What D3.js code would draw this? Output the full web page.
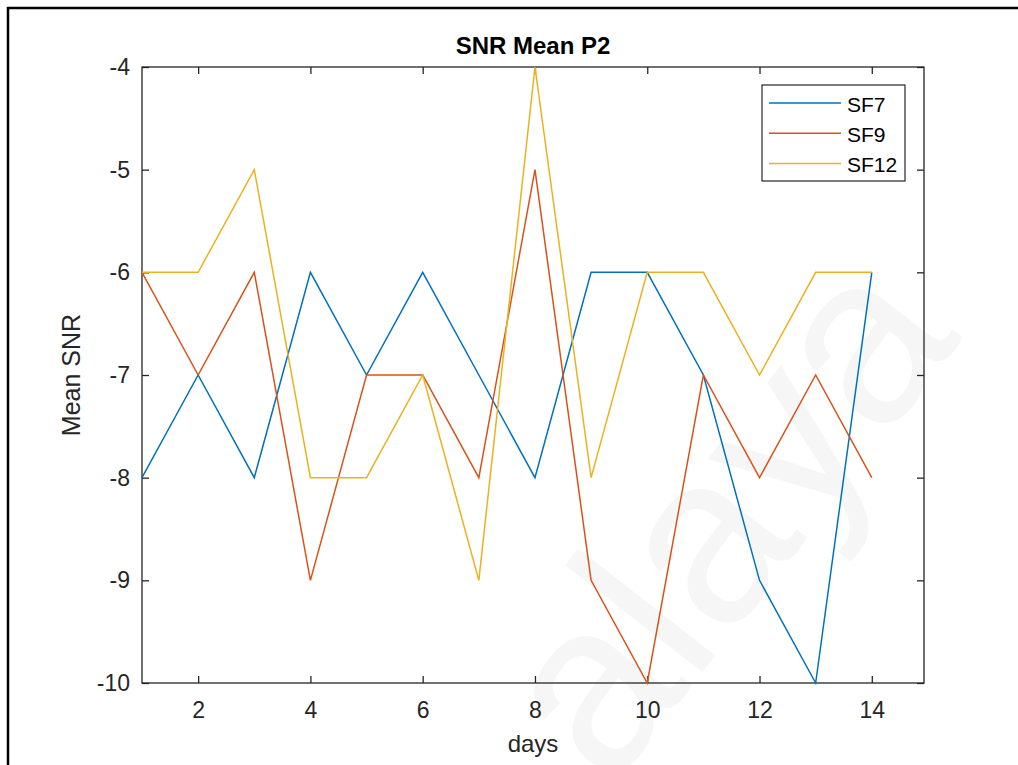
<!DOCTYPE html>
<html>
<head>
<meta charset="utf-8">
<script src="https://cdn.jsdelivr.net/npm/d3@7"></script>
<style>
  html, body { margin: 0; padding: 0; background: #fff; }
  svg { display: block; font-family: "Liberation Sans", Arial, sans-serif; }
</style>
</head>
<body>
<svg id="chart" width="1018" height="765"></svg>
<script>
const days = [1, 2, 3, 4, 5, 6, 7, 8, 9, 10, 11, 12, 13, 14];
const sf7  = [-8, -7, -8, -6, -7, -6, -7, -8, -6, -6, -7, -9, -10, -6];
const sf9  = [-6, -7, -6, -9, -7, -7, -8, -5, -9, -10, -7, -8, -7, -8];
const sf12 = [-6, -6, -5, -8, -8, -7, -9, -4, -8, -6, -6, -7, -6, -6];
const seriesNames = ["SF7", "SF9", "SF12"];
const seriesColors = ["#0072BD", "#D95319", "#EDB120"];
const xTicks = [2, 4, 6, 8, 10, 12, 14];
const yTicks = [-10, -9, -8, -7, -6, -5, -4];
const title = "SNR Mean P2";
const xLabel = "days";
const yLabel = "Mean SNR";

(function () {
const svg = d3.select("#chart");
const pLeft = 142, pRight = 924, pTop = 67, pBottom = 683;
const font = "Liberation Sans, Arial, sans-serif";

// outer frame
svg.append("rect").attr("x", 8).attr("y", 8).attr("width", 1040).attr("height", 800)
  .attr("fill", "none").attr("stroke", "#000").attr("stroke-width", 2.5);

// faint watermark
svg.append("text")
  .attr("transform", "translate(610,790) rotate(-52)")
  .attr("font-size", 240).attr("font-family", font)
  .attr("fill", "#f6f6f6").text("alaya");

const x = d3.scaleLinear().domain([1, 14.93]).range([pLeft, pRight]);
const y = d3.scaleLinear().domain([-10, -4]).range([pBottom, pTop]);

const axisColor = "#262626";

// plot box
svg.append("rect").attr("x", pLeft).attr("y", pTop).attr("width", pRight - pLeft).attr("height", pBottom - pTop)
  .attr("fill", "none").attr("stroke", axisColor).attr("stroke-width", 1.3);

// axes
const xAxis = svg.append("g").attr("transform", `translate(0,${pBottom})`)
  .call(d3.axisBottom(x).tickValues(xTicks).tickSize(-7).tickPadding(19).tickFormat(d3.format("d")));
const xAxisTop = svg.append("g").attr("transform", `translate(0,${pTop})`)
  .call(d3.axisTop(x).tickValues(xTicks).tickSize(-7).tickFormat(""));
const yAxis = svg.append("g").attr("transform", `translate(${pLeft},0)`)
  .call(d3.axisLeft(y).tickValues(yTicks).tickSize(-7).tickPadding(12).tickFormat(d => String(d)));
const yAxisRight = svg.append("g").attr("transform", `translate(${pRight},0)`)
  .call(d3.axisRight(y).tickValues(yTicks).tickSize(-7).tickFormat(""));

[xAxis, xAxisTop, yAxis, yAxisRight].forEach(g => {
  g.select(".domain").remove();
  g.selectAll(".tick line").attr("stroke", axisColor).attr("stroke-width", 1.3);
  g.selectAll(".tick text").attr("fill", axisColor).attr("font-size", 23)
    .attr("font-family", font);
});

// lines
const allSeries = [sf7, sf9, sf12];
const line = d3.line().x((d, i) => x(days[i])).y(d => y(d));
allSeries.forEach((s, k) => {
  svg.append("path").datum(s).attr("d", line).attr("fill", "none")
    .attr("stroke", seriesColors[k]).attr("stroke-width", 1.5).attr("stroke-linejoin", "miter");
});

// title
svg.append("text").attr("x", (pLeft + pRight) / 2).attr("y", 54).attr("text-anchor", "middle")
  .attr("font-size", 24).attr("font-weight", "bold").attr("fill", "#000").text(title);

// axis labels
svg.append("text").attr("x", (pLeft + pRight) / 2).attr("y", 752).attr("text-anchor", "middle")
  .attr("font-size", 24).attr("fill", axisColor).text(xLabel);
svg.append("text").attr("transform", `translate(80,${(pTop + pBottom) / 2}) rotate(-90)`)
  .attr("text-anchor", "middle").attr("font-size", 25).attr("fill", axisColor).text(yLabel);

// legend
const lg = svg.append("g");
lg.append("rect").attr("x", 762).attr("y", 85).attr("width", 143).attr("height", 96)
  .attr("fill", "#fff").attr("stroke", axisColor).attr("stroke-width", 1.2);
seriesNames.forEach((n, k) => {
  const yy = 103 + k * 30.3;
  lg.append("line").attr("x1", 769).attr("x2", 841).attr("y1", yy).attr("y2", yy)
    .attr("stroke", seriesColors[k]).attr("stroke-width", 1.5);
  lg.append("text").attr("x", 847).attr("y", yy + 8.5).attr("font-size", 21)
    .attr("fill", "#000").text(n);
});
})();
</script>
</body>
</html>
